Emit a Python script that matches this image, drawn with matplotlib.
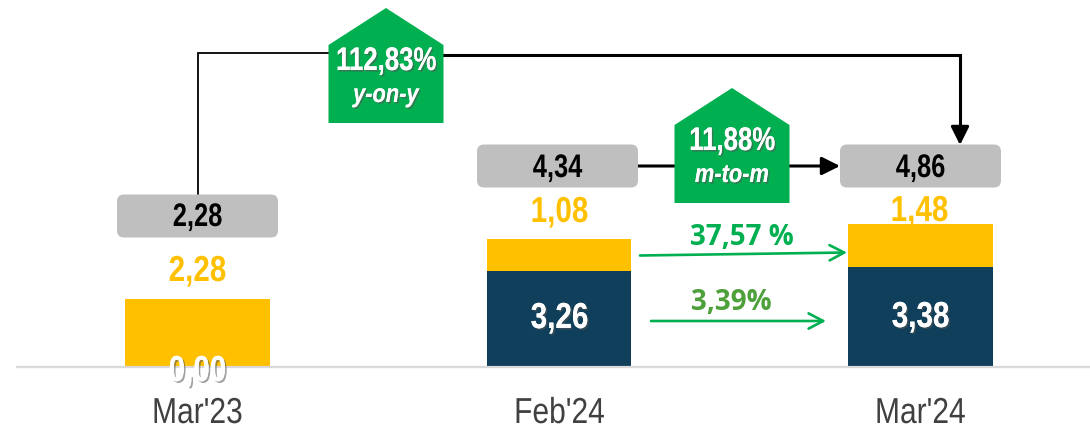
import matplotlib
matplotlib.use('Agg')
import matplotlib.pyplot as plt
import matplotlib.patheffects as pe
from matplotlib.patches import FancyBboxPatch, Polygon
from matplotlib.transforms import Affine2D

# data
periods = ["Mar'23", "Feb'24", "Mar'24"]
navy_values = [0.00, 3.26, 3.38]
yellow_values = [2.28, 1.08, 1.48]
total_labels = ['2,28', '4,34', '4,86']
navy_labels = ['0,00', '3,26', '3,38']
yellow_labels = ['2,28', '1,08', '1,48']
yoy_label = ['112,83%', 'y-on-y']
mom_label = ['11,88%', 'm-to-m']
yellow_growth = '37,57 %'
navy_growth = '3,39%'

SANS = ['Liberation Sans', 'DejaVu Sans']
YELLOW = '#FFC000'
NAVY = '#0F3F5A'
GREEN = '#00B050'
GREY = '#BFBFBF'
DPI = 100

W, H = 1090, 425
fig = plt.figure(figsize=(W / DPI, H / DPI), dpi=DPI)


class Narrow(pe.AbstractPathEffect):
    # no narrow font installed, so squeeze the glyphs around the text centre
    def __init__(self, cx, effects, squeeze=0.82):
        super().__init__()
        self.cx = cx
        self.effects = effects
        self.squeeze = squeeze

    def draw_path(self, renderer, gc, tpath, affine, rgbFace=None):
        squeezed = affine + Affine2D().translate(-self.cx, 0).scale(self.squeeze, 1).translate(self.cx, 0)
        for effect in self.effects:
            effect.draw_path(renderer, gc, tpath, squeezed, rgbFace)


# chart axes fill the figure, scaled so the bars land where they do in the picture
ax = fig.add_axes([0, 0, 1, 1])
ax.set_xlim(-197.5 / 361.5, (W - 197.5) / 361.5)
ax.set_ylim(-(H - 366) / 29.2, 366 / 29.2)
ax.axis('off')

x = range(len(periods))
ax.bar(x, navy_values, width=0.401, color=NAVY, zorder=2)
ax.bar(x, yellow_values, width=0.401, bottom=navy_values, color=YELLOW, zorder=2)

# overlay in pixels for the callouts
ov = fig.add_axes([0, 0, 1, 1], facecolor='none')
ov.set_xlim(0, W)
ov.set_ylim(H, 0)
ov.axis('off')
ov.plot([17, W], [366.5, 366.5], color='#D9D9D9', lw=1.6, zorder=1)

shadow = [pe.withSimplePatchShadow(offset=(1.2, -1.2), shadow_rgbFace='#555555', alpha=0.55), pe.Normal()]


def narrow_text(cx, baseline, label, size, color, effects=None, squeeze=0.82, **kw):
    effects = effects or [pe.Normal()]
    ov.text(cx, baseline, label, ha='center', va='baseline', fontsize=size, family=SANS, color=color,
            path_effects=[Narrow(cx, effects, squeeze)], **kw)


def box(cx, cy, baseline, label):
    ov.add_patch(FancyBboxPatch((cx - 75, cy - 16), 150, 32, boxstyle='round,pad=5.5,rounding_size=7',
                                lw=0, fc=GREY, zorder=3))
    narrow_text(cx, baseline, label, 23.5, 'black', squeeze=0.78, fontweight='bold', zorder=4)


def house(left, top, label):
    right = left + 115
    mid = left + 57.5
    ov.add_patch(Polygon([(left, top + 37), (mid, top), (right, top + 37), (right, top + 115), (left, top + 115)],
                         closed=True, fc=GREEN, ec='none', zorder=5))
    narrow_text(mid, top + 62, label[0], 23.5, 'white', shadow, squeeze=0.79, fontweight='bold', zorder=6)
    narrow_text(mid, top + 94, label[1], 18.5, 'white', shadow, squeeze=0.85, fontweight='bold',
                style='italic', zorder=6)


def arrow(x0, y0, x1, y1, color, lw, style):
    ov.annotate('', xy=(x1, y1), xytext=(x0, y0), zorder=2,
                arrowprops=dict(arrowstyle=style, color=color, lw=lw, shrinkA=0, shrinkB=0))


# connectors
ov.plot([197.5, 197.5, 330], [195, 52.5, 52.5], color='black', lw=1.3, zorder=2, solid_joinstyle='miter')
ov.plot([440, 960, 960], [54.5, 54.5, 135], color='black', lw=2.2, zorder=2, solid_joinstyle='miter')
arrow(960, 128, 960, 145, 'black', 2.2, '-|>,head_length=1.1,head_width=0.55')
arrow(636, 166, 840, 166, 'black', 2.2, '-|>,head_length=1.1,head_width=0.55')

box(197.5, 216, 226, total_labels[0])
box(557.5, 166, 177, total_labels[1])
box(920.5, 166, 177, total_labels[2])

house(328.5, 8, yoy_label)
house(674.5, 88, mom_label)

# bar value labels
for cx, base, t in zip([197.5, 559.5, 919.5], [281, 222, 221], yellow_labels):
    narrow_text(cx, base, t, 26, YELLOW, fontweight='bold', zorder=3)
for cx, base, t in zip([197.5, 559.5, 920.5], [381, 328, 327], navy_labels):
    narrow_text(cx, base, t, 26, 'white', shadow, fontweight='bold', zorder=4)
for cx, t in zip([197.5, 559.5, 920.5], periods):
    narrow_text(cx, 423, t, 26, '#404040', squeeze=0.83, zorder=4)

# growth arrows
arrow(640, 255.5, 847, 252.5, GREEN, 1.9, '->,head_length=1.05,head_width=0.55')
arrow(651, 321, 826, 321, GREEN, 1.9, '->,head_length=1.05,head_width=0.55')
ov.text(742, 245, yellow_growth, ha='center', va='baseline', fontsize=20, fontweight='bold',
        family=['Open Sans', 'DejaVu Sans'], color=GREEN)
ov.text(731, 310.5, navy_growth, ha='center', va='baseline', fontsize=20, fontweight='bold',
        family=['Open Sans', 'DejaVu Sans'], color='#4EA03A')

fig.savefig('out.png', dpi=DPI)
